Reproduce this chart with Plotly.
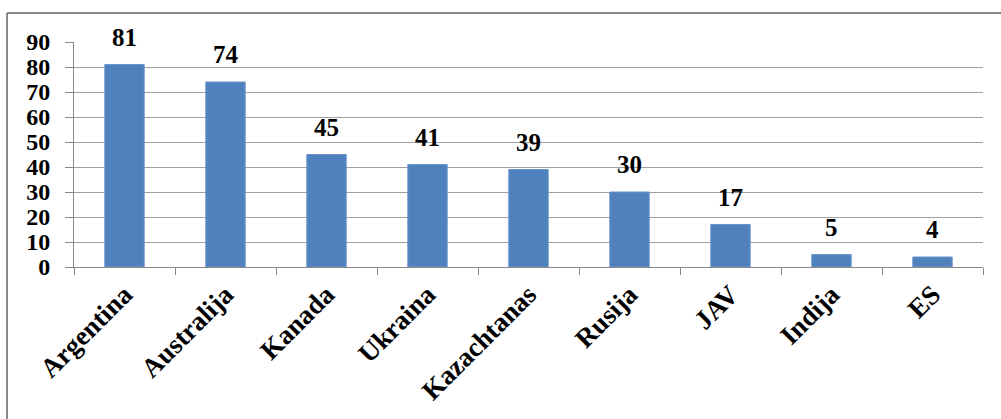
import plotly.graph_objects as go

categories = ["Argentina", "Australija", "Kanada", "Ukraina", "Kazachtanas", "Rusija", "JAV", "Indija", "ES"]
values = [81, 74, 45, 41, 39, 30, 17, 5, 4]
y_ticks = [0, 10, 20, 30, 40, 50, 60, 70, 80, 90]

W, H = 1001, 419
L, R, T, B = 74, 18, 42, 152
pw, ph = W - L - R, H - T - B

def px_x(x):
    return (x - L) / pw

def px_y(y):
    return (H - B - y) / ph

fam = "Liberation Serif, Times New Roman, serif"
tick_font = dict(family=fam, size=24, color="black", weight="bold")
xlab_font = dict(family=fam, size=27, color="black", weight="bold")
lab_font = dict(family=fam, size=25, color="black", weight="bold")

fig = go.Figure(go.Bar(
    x=categories, y=values, width=0.39,
    marker=dict(color="#4F81BD", line=dict(color="#6A95CC", width=1)),
    cliponaxis=False, hoverinfo="skip",
))

for c, v in zip(categories, values):
    fig.add_annotation(x=c, y=v, text=str(v), showarrow=False,
                       yanchor="bottom", yshift=12, font=lab_font)

fig.update_layout(
    width=W, height=H,
    margin=dict(l=L, r=R, t=T, b=B, pad=0),
    paper_bgcolor="white", plot_bgcolor="white",
    showlegend=False,
    xaxis=dict(
        type="category", tickangle=-45, tickfont=xlab_font, automargin=False,
        showline=True, linecolor="#888888", linewidth=1,
        ticks="outside", ticklen=7, tickcolor="#888888", tickson="boundaries",
        showgrid=False,
    ),
    yaxis=dict(
        range=[0, 90], tickvals=y_ticks, tickfont=tick_font, automargin=False,
        showline=True, linecolor="#888888", linewidth=1,
        ticks="outside", ticklen=8, tickcolor="#888888",
        showgrid=True, gridcolor="#A0A0A0", gridwidth=1,
        zeroline=False, ticklabelstandoff=10,
    ),
    shapes=[
        dict(type="line", xref="paper", yref="paper",
             x0=px_x(7), x1=px_x(1010), y0=px_y(13), y1=px_y(13),
             line=dict(color="#888888", width=2)),
        dict(type="line", xref="paper", yref="paper",
             x0=px_x(7), x1=px_x(7), y0=px_y(13), y1=px_y(430),
             line=dict(color="#888888", width=2)),
    ],
)

fig.write_html("out.html", config={"displayModeBar": False},
               post_script="document.body.style.margin='0';")
